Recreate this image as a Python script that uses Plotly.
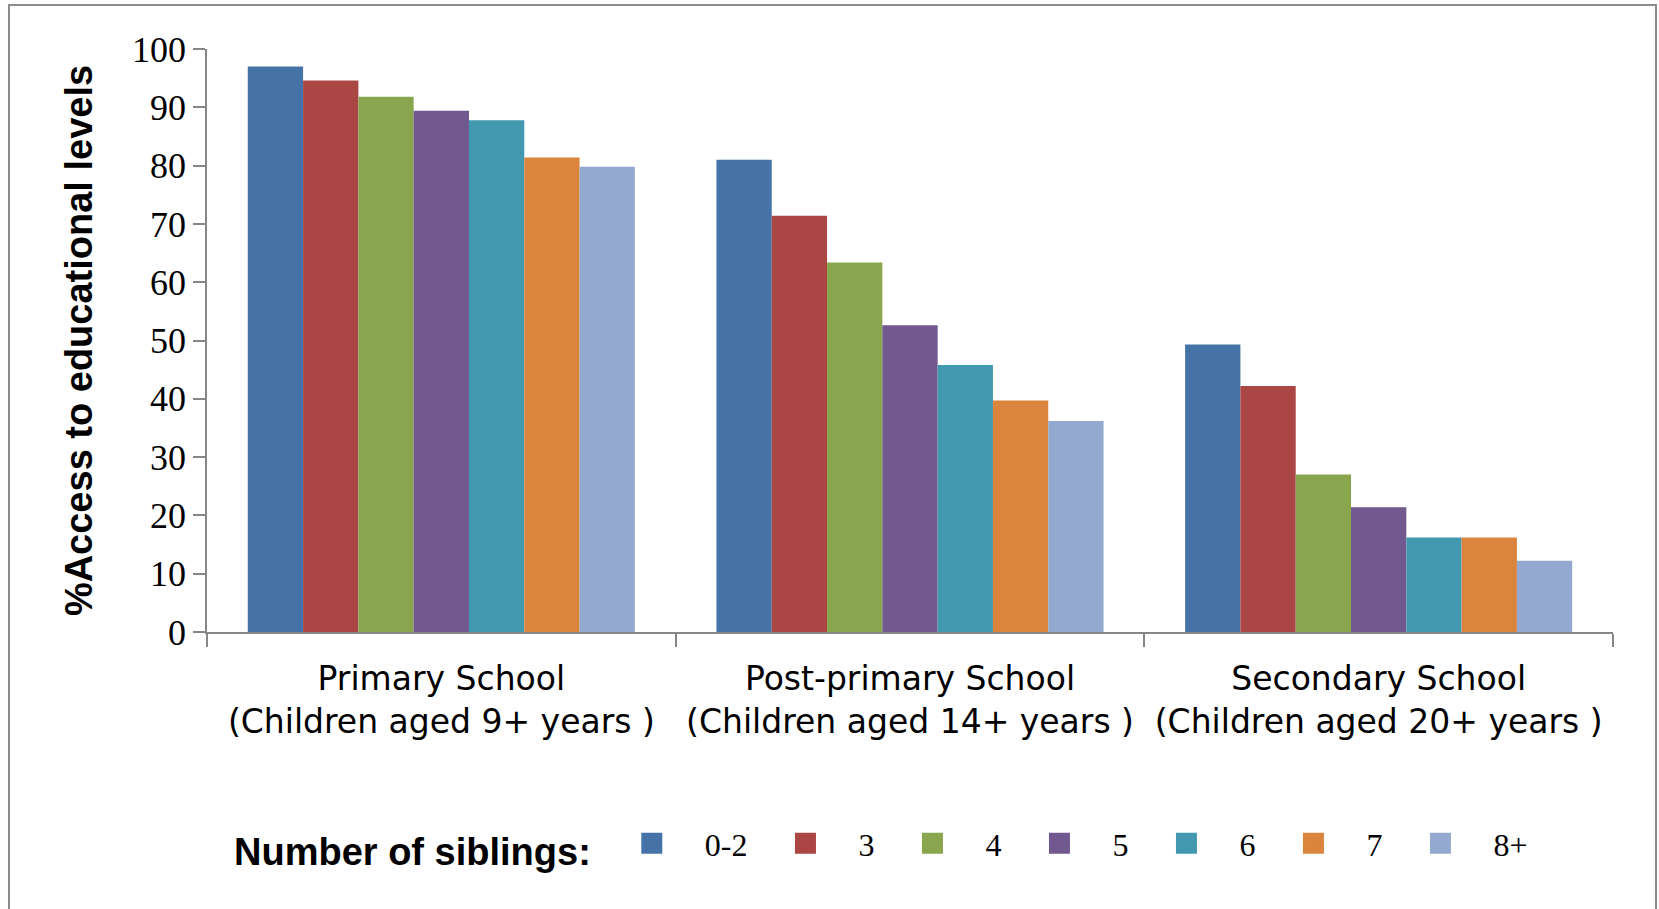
import plotly.graph_objects as go

categories = [
    "Primary School<br>(Children aged 9+ years )",
    "Post-primary School<br>(Children aged 14+ years )",
    "Secondary School<br>(Children aged 20+ years )",
]
sibling_groups = ["0-2", "3", "4", "5", "6", "7", "8+"]
values = {
    "0-2": [97.0, 81.0, 49.3],
    "3":   [94.6, 71.4, 42.2],
    "4":   [91.8, 63.4, 27.0],
    "5":   [89.4, 52.6, 21.4],
    "6":   [87.8, 45.8, 16.2],
    "7":   [81.4, 39.7, 16.2],
    "8+":  [79.8, 36.2, 12.2],
}
colors = ["#4572A7", "#AA4643", "#89A54E", "#71588F", "#4198AF", "#DB843D", "#93A9CF"]
y_ticks = list(range(0, 101, 10))

fig = go.Figure()
for name, col in zip(sibling_groups, colors):
    fig.add_trace(go.Bar(x=categories, y=values[name], name=name,
                         marker=dict(color=col, line=dict(width=0)),
                         showlegend=False))
# legend entries (square swatches)
for name, col in zip(sibling_groups, colors):
    fig.add_trace(go.Scatter(x=[None], y=[None], mode="markers", name=name,
                             marker=dict(symbol="square", size=16, color=col,
                                         line=dict(color=col, width=5)),
                             showlegend=True))

W, H = 1659, 909
L, R, T, B = 207, 46, 49, 277
pw, ph = W - L - R, H - T - B

def px_x(p):
    return (p - L) / pw

def px_y(p):
    return (H - B - p) / ph

fig.update_layout(
    width=W, height=H,
    margin=dict(l=L, r=R, t=T, b=B),
    paper_bgcolor="white", plot_bgcolor="white",
    barmode="group", bargap=0.174, bargroupgap=0,
    font=dict(family="Liberation Sans", color="black"),
    legend=dict(
        orientation="h",
        x=px_x(232), xanchor="left",
        y=px_y(846), yanchor="middle",
        title=dict(text="<b>Number of siblings:</b>", side="left",
                   font=dict(family="Liberation Sans", size=38, color="black")),
        font=dict(family="Liberation Serif", size=32, color="black"),
        itemwidth=96,
        bgcolor="rgba(0,0,0,0)",
    ),
    shapes=[dict(type="rect", xref="paper", yref="paper",
                 x0=px_x(9), x1=px_x(1656), y0=px_y(915), y1=px_y(5),
                 line=dict(color="#8c8c8c", width=2), fillcolor="rgba(0,0,0,0)",
                 layer="below")],
)

fig.update_xaxes(
    type="category",
    showline=True, linecolor="#868686", linewidth=1.5,
    ticks="outside", tickson="boundaries", ticklen=13, tickcolor="#868686", tickwidth=1.5,
    showgrid=False, zeroline=False,
    tickfont=dict(family="DejaVu Sans", size=33, color="black"),
    ticklabelstandoff=17,
)
fig.update_yaxes(
    range=[0, 100], tickvals=y_ticks, ticktext=[str(v) for v in y_ticks],
    showline=True, linecolor="#868686", linewidth=1.5,
    ticks="outside", ticklen=12, tickcolor="#868686", tickwidth=1.5,
    showgrid=False, zeroline=False,
    tickfont=dict(family="Liberation Serif", size=36, color="black"),
    ticklabelstandoff=0,
    title=dict(text="<b>%Access to educational levels</b>", standoff=28,
               font=dict(family="Liberation Sans", size=38, color="black")),
)

fig.write_html("out.html")
